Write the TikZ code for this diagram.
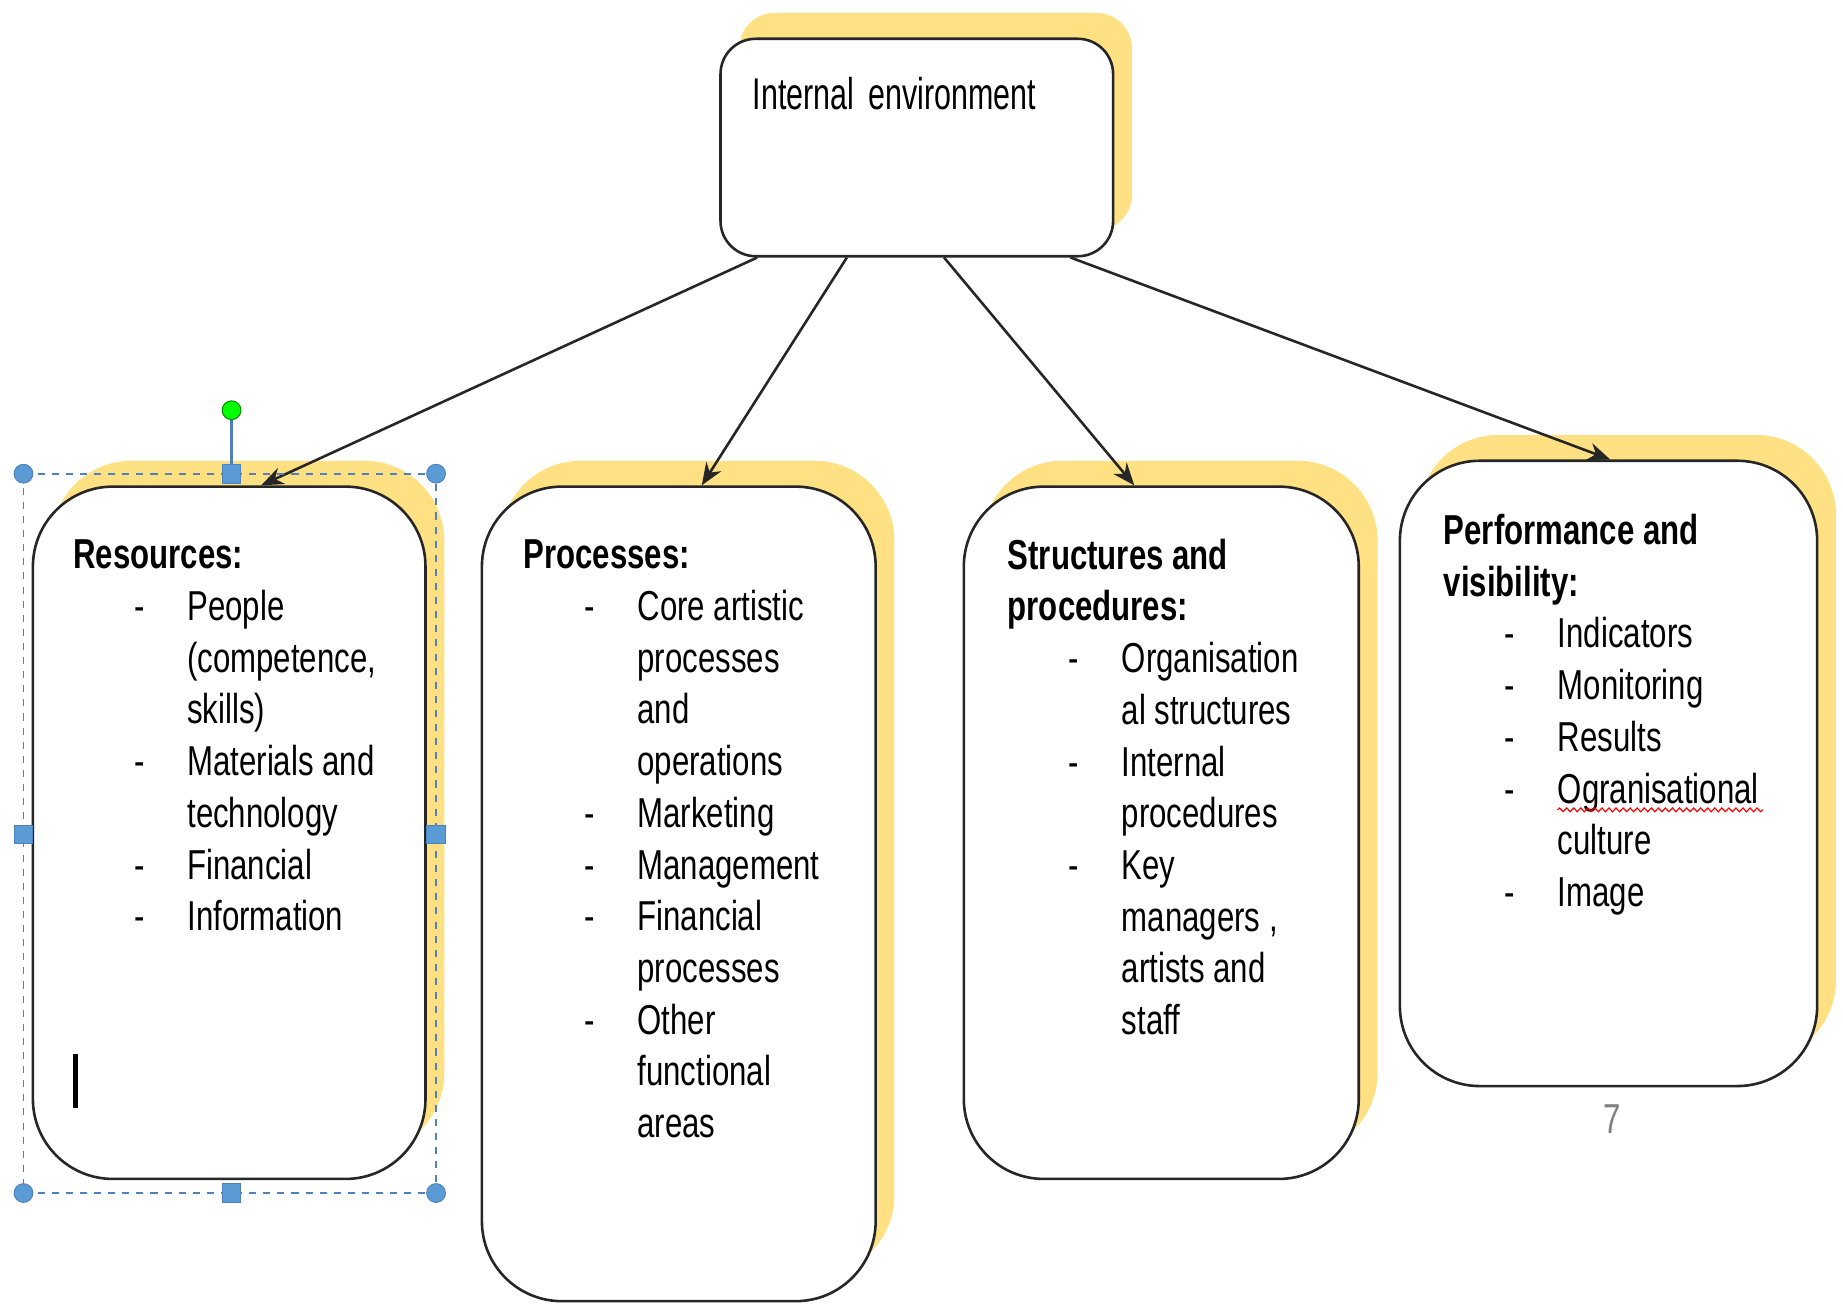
\documentclass[tikz,border=0pt]{standalone}
\usepackage{fontspec}
\setmainfont{Liberation Sans}[FakeStretch=0.745]
\newfontfamily\topfont{Liberation Sans}[FakeStretch=0.685]
\usetikzlibrary{arrows.meta,calc,shadows,decorations.pathmorphing}

\definecolor{shadowgold}{RGB}{255,224,130}
\definecolor{selblue}{RGB}{79,129,189}
\definecolor{selfill}{RGB}{91,155,213}

\newcommand{\dashln}{\hspace*{26pt}\makebox[22.5pt][l]{-}}
\newcommand{\contln}{\hspace*{48.5pt}}

\tikzset{
  card/.style={draw=black!85, line width=1.1pt, fill=white, rounded corners=34pt,
    general shadow={fill=shadowgold, shadow xshift=8pt, shadow yshift=11pt}},
  cardtext/.style={anchor=north west, inner sep=0pt, align=left,
    font=\fontsize{17.8}{22}\selectfont},
  link/.style={-{Stealth[length=9.5pt,width=7.5pt]}, line width=1.1pt, black!85},
  cornerdot/.style={circle, draw=selblue, fill=selfill, inner sep=0pt, minimum size=8pt},
  sidedot/.style={rectangle, draw=selblue, fill=selfill, inner sep=0pt, minimum size=8pt},
}

\begin{document}
\begin{tikzpicture}[x=0.5pt,y=-0.5pt]
\useasboundingbox (0,0) rectangle (1568,1109);

% boxes
\node[card, minimum width=167pt, minimum height=92.5pt, rounded corners=15pt] (env) at (780,125.5) {};
\node[card, minimum width=167pt, minimum height=294.5pt] (res) at (195,708.5) {};
\node[card, minimum width=167.5pt, minimum height=346.5pt] (proc) at (577.5,760.5) {};
\node[card, minimum width=168pt, minimum height=294.5pt] (struct) at (988,708.5) {};
\node[card, minimum width=177.5pt, minimum height=266pt] (perf) at (1368.5,658) {};

% texts
\node[anchor=north west, inner sep=0pt, font=\topfont\fontsize{18.9}{22}\selectfont] (envtxt) at (640,65) {Internal\hspace{6pt}environment};

\node[cardtext] (restxt) at (62,459) {\textbf{Resources:}\\
  \dashln People\\
  \contln(competence,\\
  \contln skills)\\
  \dashln Materials and\\
  \contln technology\\
  \dashln Financial\\
  \dashln Information};

\node[cardtext] (proctxt) at (445,459) {\textbf{Processes:}\\
  \dashln Core artistic\\
  \contln processes\\
  \contln and\\
  \contln operations\\
  \dashln Marketing\\
  \dashln Management\\
  \dashln Financial\\
  \contln processes\\
  \dashln Other\\
  \contln functional\\
  \contln areas};

\node[cardtext] (structtxt) at (857,458) {\textbf{Structures and}\\
  \textbf{procedures:}\\
  \dashln Organisation\\
  \contln al structures\\
  \dashln Internal\\
  \contln procedures\\
  \dashln Key\\
  \contln managers ,\\
  \contln artists and\\
  \contln staff};

\node[cardtext] (perftxt) at (1228,437) {\textbf{Performance and}\\
  \textbf{visibility:}\\
  \dashln Indicators\\
  \dashln Monitoring\\
  \dashln Results\\
  \dashln Ogranisational\\
  \contln culture\\
  \dashln Image};

% spelling mark
\draw[red, line width=0.5pt, decorate, decoration={snake, amplitude=0.8pt, segment length=3pt}] (1325,689) -- (1500,689);

% page number
\node[text=gray, font=\fontsize{17.8}{22}\selectfont] (pgnum) at (1372,952) {7};

% arrows
\draw[link] ($(env.south west)!0.096!(env.south east)$) -- ($(res.north west)!0.581!(res.north east)$);
\draw[link] ($(env.south west)!0.323!(env.south east)$) -- ($(proc.north west)!0.558!(proc.north east)$);
\draw[link] ($(env.south west)!0.569!(env.south east)$) -- ($(struct.north west)!0.432!(struct.north east)$);
\draw[link] ($(env.south west)!0.889!(env.south east)$) -- ($(perf.north west)!0.504!(perf.north east)$);

% selection frame
\draw[selblue, dashed, line width=0.8pt] (20,403) rectangle (371,1015);
\node[cornerdot] (hnw) at (20,403) {};
\node[cornerdot] (hne) at (371,403) {};
\node[cornerdot] (hsw) at (20,1015) {};
\node[cornerdot] (hse) at (371,1015) {};
\node[sidedot] (htop) at (197,403) {};
\node[sidedot] (hbot) at (197,1015) {};
\node[sidedot] (hleft) at (20,710) {};
\node[sidedot] (hright) at (371,710) {};
\node[circle, draw=green!50!black, fill=green, inner sep=0pt, minimum size=8pt] (hrot) at (197,349) {};
\draw[selblue, line width=1pt] (hrot) -- (htop);

% cursor
\draw[line width=2pt] (64,897) -- (64,943);

\end{tikzpicture}
\end{document}
